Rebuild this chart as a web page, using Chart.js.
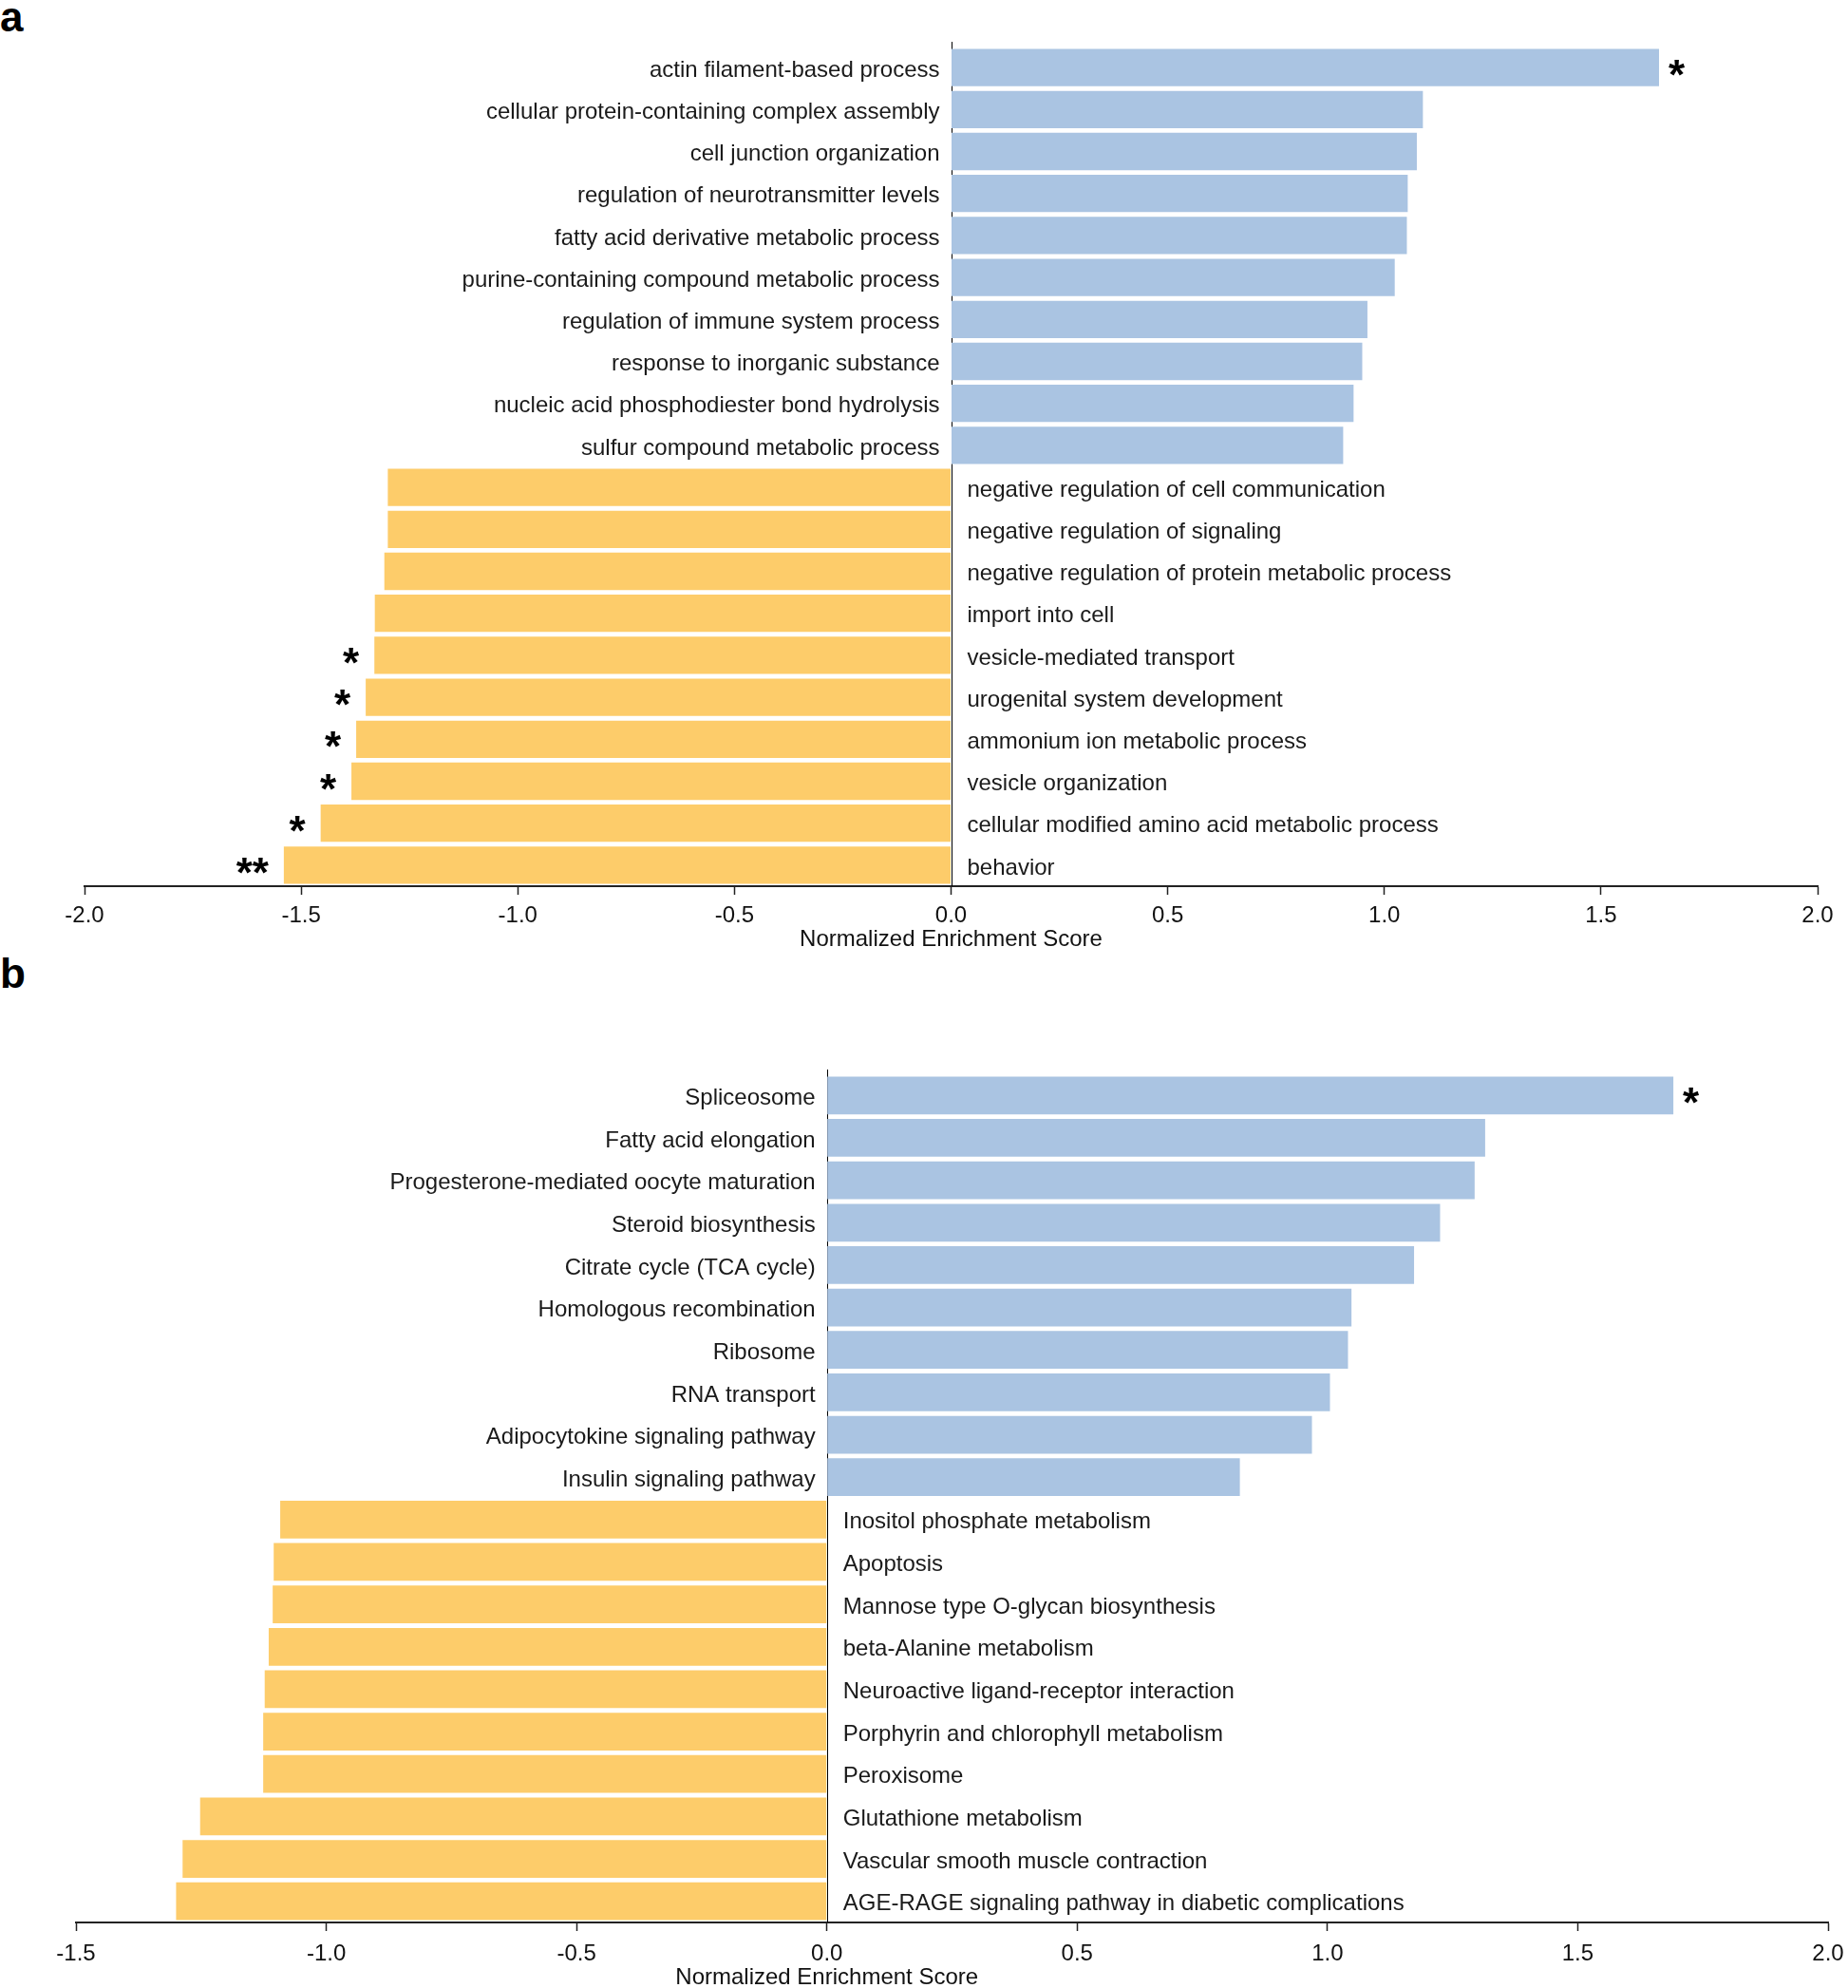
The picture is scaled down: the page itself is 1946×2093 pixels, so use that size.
<!DOCTYPE html>
<html>
<head>
<meta charset="utf-8">
<script src="https://cdn.jsdelivr.net/npm/chart.js@4/dist/chart.umd.min.js"></script>
<style>
  html, body { margin: 0; padding: 0; background: #fff; }
  body { width: 1946px; height: 2093px; position: relative; overflow: hidden; }
  .panel { position: absolute; left: 0; }
  .tag { position: absolute; left: 0; font: bold 44px "Liberation Sans", Arial, sans-serif; line-height: 44px; color: #000; }
</style>
</head>
<body>
<div class="tag" style="top:-4px">a</div>
<div class="tag" style="top:1003px">b</div>
<div class="panel" style="top:0"><canvas id="chartA" width="1946" height="1006"></canvas></div>
<div class="panel" style="top:1006px"><canvas id="chartB" width="1966" height="1087"></canvas></div>
<script>
// panel a: GO terms
const termsA = [
  'actin filament-based process',
  'cellular protein-containing complex assembly',
  'cell junction organization',
  'regulation of neurotransmitter levels',
  'fatty acid derivative metabolic process',
  'purine-containing compound metabolic process',
  'regulation of immune system process',
  'response to inorganic substance',
  'nucleic acid phosphodiester bond hydrolysis',
  'sulfur compound metabolic process',
  'negative regulation of cell communication',
  'negative regulation of signaling',
  'negative regulation of protein metabolic process',
  'import into cell',
  'vesicle-mediated transport',
  'urogenital system development',
  'ammonium ion metabolic process',
  'vesicle organization',
  'cellular modified amino acid metabolic process',
  'behavior'
];
const nesA = [1.634, 1.089, 1.075, 1.054, 1.052, 1.024, 0.961, 0.949, 0.929, 0.905,
  -1.300, -1.300, -1.308, -1.330, -1.331, -1.351, -1.373, -1.384, -1.455, -1.540];
const sigA = ['*', '', '', '', '', '', '', '', '', '',
  '', '', '', '', '*', '*', '*', '*', '*', '**'];
const ticksA = [-2.0, -1.5, -1.0, -0.5, 0.0, 0.5, 1.0, 1.5, 2.0];

// panel b: KEGG pathways
const termsB = [
  'Spliceosome',
  'Fatty acid elongation',
  'Progesterone-mediated oocyte maturation',
  'Steroid biosynthesis',
  'Citrate cycle (TCA cycle)',
  'Homologous recombination',
  'Ribosome',
  'RNA transport',
  'Adipocytokine signaling pathway',
  'Insulin signaling pathway',
  'Inositol phosphate metabolism',
  'Apoptosis',
  'Mannose type O-glycan biosynthesis',
  'beta-Alanine metabolism',
  'Neuroactive ligand-receptor interaction',
  'Porphyrin and chlorophyll metabolism',
  'Peroxisome',
  'Glutathione metabolism',
  'Vascular smooth muscle contraction',
  'AGE-RAGE signaling pathway in diabetic complications'
];
const nesB = [1.691, 1.315, 1.294, 1.225, 1.173, 1.048, 1.041, 1.005, 0.969, 0.825,
  -1.092, -1.105, -1.107, -1.115, -1.123, -1.126, -1.126, -1.252, -1.287, -1.300];
const sigB = ['*', '', '', '', '', '', '', '', '', '',
  '', '', '', '', '', '', '', '', '', ''];
const ticksB = [-1.5, -1.0, -0.5, 0.0, 0.5, 1.0, 1.5, 2.0];

const FONT = '"Liberation Sans", Arial, Helvetica, sans-serif';
const UP = '#aac4e2';
const DOWN = '#fdcc6a';

// zero line, term labels, stars and axis title
const nesPlugin = {
  id: 'nesLabels',
  beforeDatasetsDraw(chart) {
    const ctx = chart.ctx, area = chart.chartArea;
    const x0 = Math.round(chart.scales.x.getPixelForValue(0)) + 0.5;
    ctx.save();
    ctx.strokeStyle = '#000';
    ctx.lineWidth = 1;
    ctx.beginPath();
    ctx.moveTo(x0, area.top - 5);
    ctx.lineTo(x0, area.bottom);
    ctx.stroke();
    ctx.restore();
  },
  afterDatasetsDraw(chart, args, opts) {
    const ctx = chart.ctx;
    const xs = chart.scales.x, ys = chart.scales.y;
    const x0 = xs.getPixelForValue(0);
    ctx.save();
    opts.terms.forEach((t, i) => {
      const v = opts.values[i];
      const y = ys.getPixelForValue(i);
      ctx.font = '24px ' + FONT;
      ctx.fillStyle = '#1a1a1a';
      ctx.textBaseline = 'middle';
      if (v >= 0) {
        ctx.textAlign = 'right';
        ctx.fillText(t, x0 - 12, y + 3);
      } else {
        ctx.textAlign = 'left';
        ctx.fillText(t, x0 + 17, y + 3);
      }
      const s = opts.sig[i];
      if (s) {
        const xe = xs.getPixelForValue(v);
        ctx.font = 'bold 44px ' + FONT;
        ctx.fillStyle = '#000';
        ctx.textBaseline = 'alphabetic';
        ctx.textAlign = v >= 0 ? 'left' : 'right';
        ctx.fillText(s, v >= 0 ? xe + 10 : xe - 16, y + 23);
      }
    });
    ctx.font = '24px ' + FONT;
    ctx.fillStyle = '#111';
    ctx.textAlign = 'center';
    ctx.textBaseline = 'middle';
    ctx.fillText('Normalized Enrichment Score', x0, chart.chartArea.bottom + opts.titleGap);
    ctx.restore();
  }
};

function nesChart(id, terms, values, sig, ticks, padLeft, padRight, padTop, axisH, tickPad, titleGap) {
  return new Chart(document.getElementById(id), {
    type: 'bar',
    data: {
      labels: terms,
      datasets: [{
        data: values,
        backgroundColor: values.map(v => v >= 0 ? UP : DOWN),
        borderWidth: 0,
        barPercentage: 0.89,
        categoryPercentage: 1.0
      }]
    },
    options: {
      indexAxis: 'y',
      responsive: false,
      animation: false,
      devicePixelRatio: 1,
      layout: { padding: { left: padLeft, right: padRight, top: padTop, bottom: 0 } },
      plugins: {
        legend: { display: false },
        tooltip: { enabled: false },
        nesLabels: { terms: terms, values: values, sig: sig, titleGap: titleGap }
      },
      scales: {
        x: {
          type: 'linear',
          min: ticks[0],
          max: ticks[ticks.length - 1],
          afterBuildTicks: s => { s.ticks = ticks.map(v => ({ value: v })); },
          afterFit: s => { s.height = axisH; },
          border: { display: true, color: '#222', width: 2 },
          grid: { drawOnChartArea: false, drawTicks: true, tickLength: 9, tickColor: '#222', tickWidth: 1.5 },
          ticks: {
            font: { family: FONT, size: 24 },
            color: '#111',
            padding: tickPad,
            maxRotation: 0,
            autoSkip: false,
            callback: v => v.toFixed(1)
          }
        },
        y: { type: 'category', display: false, offset: true }
      }
    },
    plugins: [nesPlugin]
  });
}

nesChart('chartA', termsA, nesA, sigA, ticksA, 89, 32, 49, 73, 8, 56.5);
nesChart('chartB', termsB, nesB, sigB, ticksB, 80, 41, 125, 69, 10, 58);
</script>
</body>
</html>
